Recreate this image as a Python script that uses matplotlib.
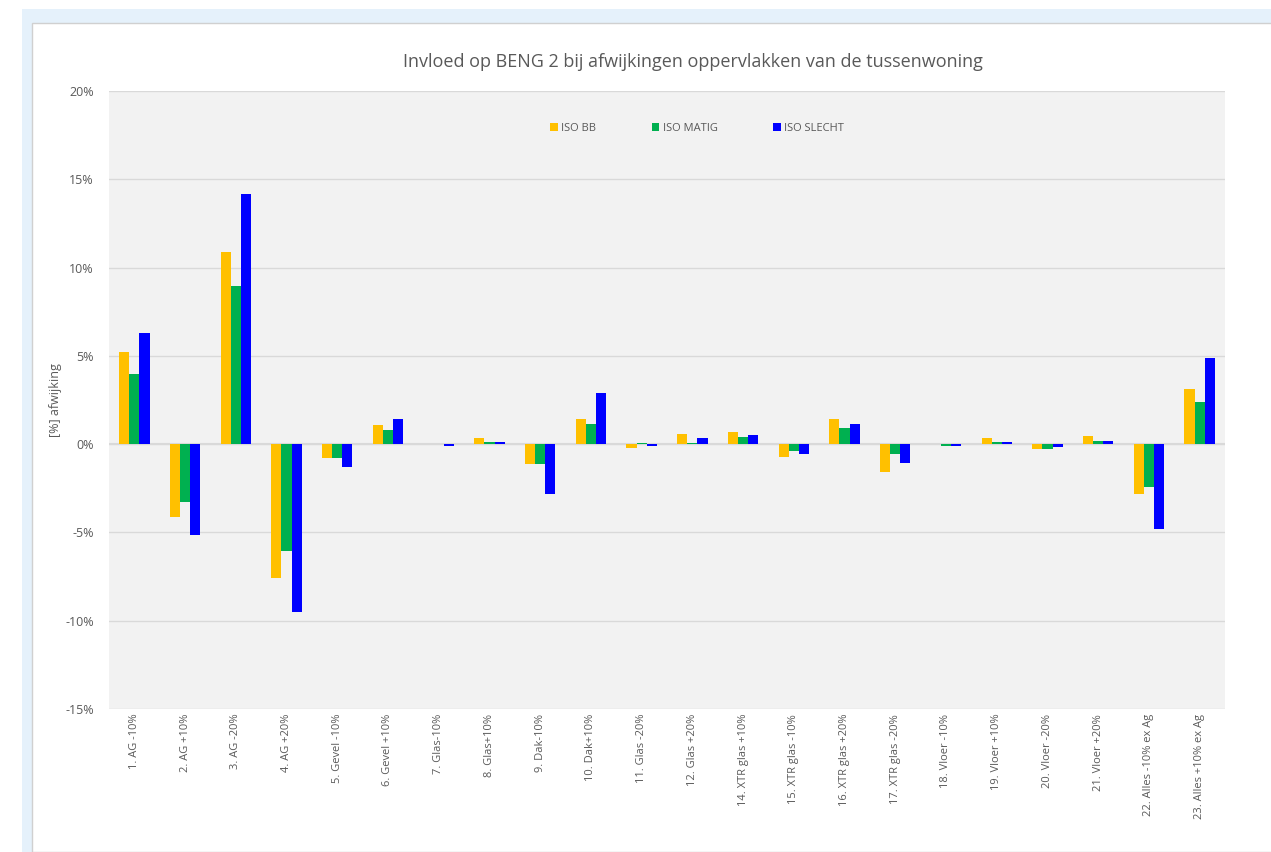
import matplotlib.pyplot as plt
import matplotlib.patches as mpatches
import numpy as np

labels = ["1. AG -10%", "2. AG +10%", "3. AG -20%", "4. AG +20%", "5. Gevel -10%",
          "6. Gevel +10%", "7. Glas-10%", "8. Glas+10%", "9. Dak-10%", "10. Dak+10%",
          "11. Glas -20%", "12. Glas +20%", "14. XTR glas +10%", "15. XTR glas -10%",
          "16. XTR glas +20%", "17. XTR glas -20%", "18. Vloer -10%", "19. Vloer +10%",
          "20. Vloer -20%", "21. Vloer +20%", "22. Alles -10% ex Ag", "23. Alles +10% ex Ag"]
iso_bb = [5.2, -4.1, 10.9, -7.6, -0.8, 1.1, 0.0, 0.35, -1.1, 1.4, -0.2, 0.6,
          0.7, -0.7, 1.45, -1.57, 0.0, 0.32, -0.25, 0.45, -2.8, 3.1]
iso_matig = [4.0, -3.3, 8.95, -6.05, -0.8, 0.8, 0.0, 0.1, -1.15, 1.15, 0.05, 0.05,
             0.38, -0.38, 0.9, -0.57, -0.1, 0.1, -0.25, 0.2, -2.4, 2.4]
iso_slecht = [6.3, -5.15, 14.15, -9.5, -1.3, 1.4, -0.1, 0.1, -2.8, 2.9, -0.1, 0.35,
              0.5, -0.57, 1.13, -1.08, -0.1, 0.1, -0.15, 0.2, -4.8, 4.9]
series = [("ISO BB", iso_bb, "#FFC000"), ("ISO MATIG", iso_matig, "#00B050"),
          ("ISO SLECHT", iso_slecht, "#0000FF")]

W, H = 1271, 852
fig = plt.figure(figsize=(W / 100, H / 100), dpi=100)
fig.patch.set_facecolor("white")
fig.patches.append(mpatches.Rectangle((22 / W, 0), 1, 1 - 9 / H, transform=fig.transFigure,
                                      facecolor="#E5F1FB", edgecolor="none", zorder=-10))
fig.patches.append(mpatches.Rectangle((32 / W, 0), 1, 1 - 23 / H, transform=fig.transFigure,
                                      facecolor="white", edgecolor="#D0D0D0", lw=1, zorder=-9))

ax = fig.add_axes([109 / W, 1 - 709 / H, (1225 - 109) / W, (709 - 91) / H])
ax.set_facecolor("#F2F2F2")

x = np.arange(len(labels))
w = 0.2
for i, (name, vals, col) in enumerate(series):
    ax.bar(x + (i - 1) * w, vals, w, color=col, label=name, zorder=3)

ax.set_xlim(-0.5, len(labels) - 0.5)
ax.set_ylim(-15, 20)
ax.set_yticks(np.arange(-15, 21, 5))
ax.set_yticklabels([f"{v}%" for v in range(-15, 21, 5)], fontsize=9, color="#595959",
                   family="Open Sans")
ax.set_xticks(x)
ax.set_xticklabels(labels, rotation=90, fontsize=8, color="#595959", family="Open Sans")
ax.tick_params(length=0)
ax.tick_params(axis="y", pad=11)
ax.grid(axis="y", color="#D9D9D9", lw=1, zorder=0)
ax.axhline(0, color="#D9D9D9", lw=1.5, zorder=2)
for s in ax.spines.values():
    s.set_visible(False)

fig.text(56 / W, 1 - 400 / H, "[%] afwijking", rotation=90, ha="center", va="center",
         fontsize=9, color="#595959", family="Open Sans")
fig.text(0.545, 1 - 62 / H, "Invloed op BENG 2 bij afwijkingen oppervlakken van de tussenwoning",
         ha="center", va="center", fontsize=13, color="#595959", family="Open Sans")

leg = ax.legend(loc="upper center", bbox_to_anchor=(0.527, 0.965), ncol=3, frameon=False,
                handlelength=0.7, handleheight=0.7, handletextpad=0.3,
                columnspacing=5, prop={"family": "Open Sans", "size": 8})
for t in leg.get_texts():
    t.set_color("#595959")

fig.savefig("out.png", dpi=100)
